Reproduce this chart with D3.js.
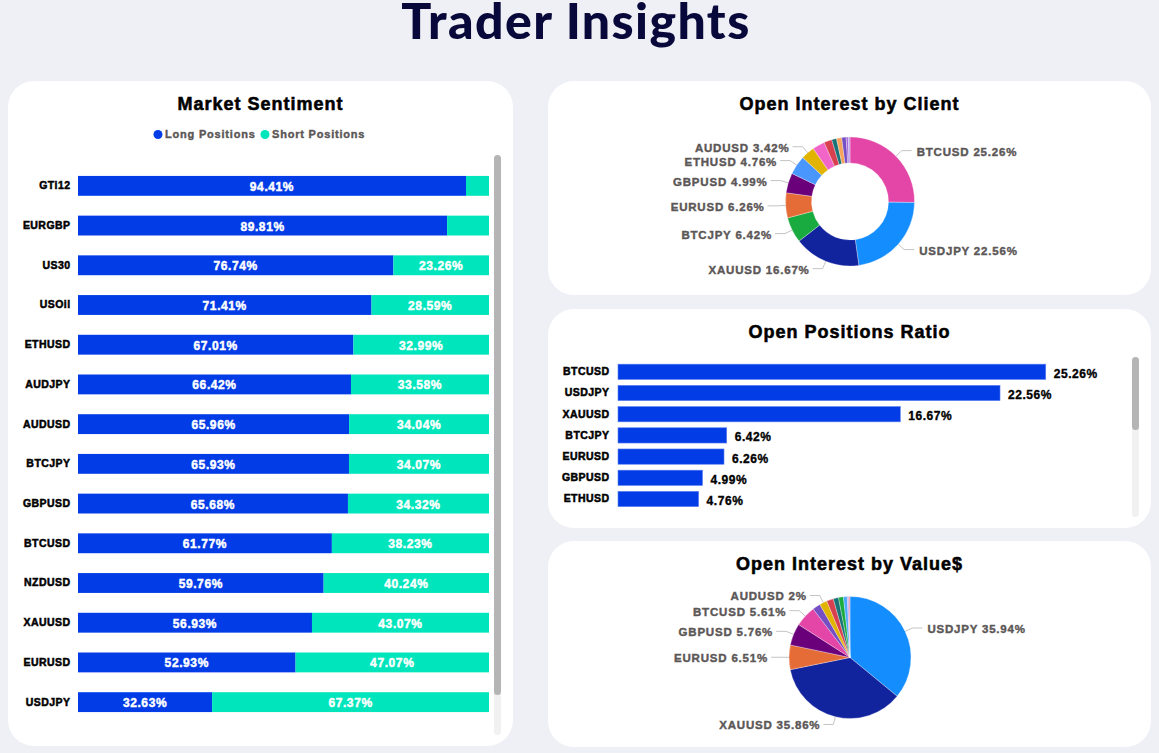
<!DOCTYPE html>
<html>
<head>
<meta charset="utf-8">
<title>Trader Insights</title>
<script src="https://cdn.jsdelivr.net/npm/d3@7"></script>
<style>
  html, body { margin: 0; padding: 0; background: #eff0f5; overflow: hidden; }
  svg { display: block; }
  text { font-family: "Liberation Sans", Arial, sans-serif; font-weight: 700; }
  .title { font-family: Lato, sans-serif; font-weight: 900; font-size: 50px; fill: #08083a; text-anchor: middle; letter-spacing: 1.4px; }
  .card-title { font-size: 18px; fill: #000; text-anchor: middle; letter-spacing: 1px; stroke: #000; stroke-width: .55px; }
  .legend { font-size: 11px; fill: #5c5757; letter-spacing: .8px; stroke: #5c5757; stroke-width: .4px; }
  .axis text { font-size: 10.5px; fill: #000; letter-spacing: .45px; stroke: #000; stroke-width: .5px; }
  .bar-label { font-size: 12px; fill: #fff; text-anchor: middle; letter-spacing: .6px; stroke: #fff; stroke-width: .45px; }
  .value-label { font-size: 12px; fill: #000; letter-spacing: .55px; stroke: #000; stroke-width: .35px; }
  .slice-label { font-size: 11.5px; fill: #5c5757; letter-spacing: .8px; stroke: #5c5757; stroke-width: .4px; }
</style>
</head>
<body>
<svg id="chart" width="1159" height="753"></svg>
<script>
// market sentiment
const sentimentPairs = ["GTi12", "EURGBP", "US30", "USOil", "ETHUSD", "AUDJPY", "AUDUSD", "BTCJPY", "GBPUSD", "BTCUSD", "NZDUSD", "XAUUSD", "EURUSD", "USDJPY"];
const longValues = [94.41, 89.81, 76.74, 71.41, 67.01, 66.42, 65.96, 65.93, 65.68, 61.77, 59.76, 56.93, 52.93, 32.63];
const shortValues = [5.59, 10.19, 23.26, 28.59, 32.99, 33.58, 34.04, 34.07, 34.32, 38.23, 40.24, 43.07, 47.07, 67.37];

// open positions ratio, the visible rows of the list
const ratioPairs = ["BTCUSD", "USDJPY", "XAUUSD", "BTCJPY", "EURUSD", "GBPUSD", "ETHUSD"];
const ratioValues = [25.26, 22.56, 16.67, 6.42, 6.26, 4.99, 4.76];

// open interest by client, only the first 8 slices carry a label
const clientPairs = ["BTCUSD", "USDJPY", "XAUUSD", "BTCJPY", "EURUSD", "GBPUSD", "ETHUSD", "AUDUSD", "US30", "USOil", "GTi12", "AUDJPY", "NZDUSD", "EURGBP", "GBPJPY"];
const clientValues = [25.26, 22.56, 16.67, 6.42, 6.26, 4.99, 4.76, 3.42, 3.1, 2.0, 1.2, 1.3, 1.1, 0.55, 0.41];
const clientLabelled = 8;
const clientColors = ["#e346a6", "#148dff", "#12239e", "#1aab40", "#e66c37", "#6b007b", "#4a96ff", "#e0b400", "#f265c8", "#d9404f", "#197278", "#f7a35c", "#744ec2", "#a66ad8", "#b79be8"];

// open interest by value, labelled slices are listed by name
const valuePairs = ["USDJPY", "XAUUSD", "EURUSD", "GBPUSD", "BTCUSD", "ETHUSD", "AUDUSD", "US30", "USOil", "BTCJPY", "NZDUSD", "GTi12", "EURGBP"];
const valueValues = [35.94, 35.86, 6.51, 5.76, 5.61, 2.1, 2, 1.8, 1.4, 1.3, 1.0, 0.4, 0.32];
const valueLabelled = ["USDJPY", "XAUUSD", "EURUSD", "GBPUSD", "BTCUSD", "AUDUSD"];
const valueColors = ["#148dff", "#12239e", "#e66c37", "#6b007b", "#e346a6", "#744ec2", "#e0b400", "#d9404f", "#197278", "#1aab40", "#4aa8ff", "#b79be8", "#f28ca0"];

const blue = "#023ce6";
const blueEdge = "#5a7ff0";
const teal = "#00e5bb";

const svg = d3.select("#chart");

svg.append("text").attr("class", "title").attr("x", 576).attr("y", 39).text("Trader Insights");

// white rounded cards
const cards = [
  { x: 8, y: 81, w: 505, h: 665, title: "Market Sentiment", ty: 110 },
  { x: 548, y: 81, w: 603, h: 214, title: "Open Interest by Client", ty: 110 },
  { x: 548, y: 309, w: 603, h: 219, title: "Open Positions Ratio", ty: 338 },
  { x: 548, y: 541, w: 603, h: 206, title: "Open Interest by Value$", ty: 570 }
];
cards.forEach(c => {
  svg.append("rect").attr("x", c.x).attr("y", c.y).attr("width", c.w).attr("height", c.h)
    .attr("rx", 26).attr("fill", "#fff");
  svg.append("text").attr("class", "card-title").attr("x", c.x + c.w / 2).attr("y", c.ty).text(c.title);
});

// scrollbars
function scrollbar(x, y, h, thumb) {
  svg.append("rect").attr("x", x).attr("y", y).attr("width", 7).attr("height", h).attr("rx", 3.5).attr("fill", "#f1f1f1");
  svg.append("rect").attr("x", x).attr("y", y).attr("width", 7).attr("height", thumb).attr("rx", 3.5).attr("fill", "#b5b5b5");
}
scrollbar(494, 155, 580, 540);
scrollbar(1132, 357, 160, 73);

// legend
const legend = svg.append("g");
[["Long Positions", blue, 158, 165], ["Short Positions", teal, 265, 272]].forEach(d => {
  legend.append("circle").attr("cx", d[2]).attr("cy", 134.5).attr("r", 4.5).attr("fill", d[1]);
  legend.append("text").attr("class", "legend").attr("x", d[3]).attr("y", 138).text(d[0]);
});

// market sentiment stacked bars
const sx = d3.scaleLinear().domain([0, 100]).range([78, 489]);
const sy = d3.scaleBand().domain(sentimentPairs).range([166, 722]).paddingInner(0.5).paddingOuter(0.25);

svg.append("g").attr("class", "axis").attr("transform", "translate(78,0)")
  .call(d3.axisLeft(sy).tickSize(0).tickPadding(7.5))
  .call(g => g.select(".domain").remove());

const rows = svg.selectAll(".row").data(sentimentPairs).enter().append("g").attr("class", "row");
rows.append("rect")
  .attr("x", sx(0))
  .attr("y", d => sy(d))
  .attr("width", (d, i) => sx(longValues[i]) - sx(0))
  .attr("height", sy.bandwidth())
  .attr("fill", blue);
rows.append("rect")
  .attr("x", (d, i) => sx(longValues[i]))
  .attr("y", d => sy(d))
  .attr("width", (d, i) => sx(100) - sx(longValues[i]))
  .attr("height", sy.bandwidth())
  .attr("fill", teal);
rows.append("text").attr("class", "bar-label")
  .attr("x", (d, i) => sx(longValues[i] / 2))
  .attr("y", d => sy(d) + sy.bandwidth() / 2 + 5)
  .text((d, i) => longValues[i] + "%");
rows.filter((d, i) => shortValues[i] > 15).append("text").attr("class", "bar-label")
  .attr("x", d => { const i = sentimentPairs.indexOf(d); return sx(longValues[i] + shortValues[i] / 2); })
  .attr("y", d => sy(d) + sy.bandwidth() / 2 + 5)
  .text(d => shortValues[sentimentPairs.indexOf(d)] + "%");

// open positions ratio bars
const rx = d3.scaleLinear().domain([0, 30]).range([618, 1126]);
const ry = d3.scaleBand().domain(ratioPairs).range([361.2, 509.6]).paddingInner(0.28).paddingOuter(0.14);

svg.append("g").attr("class", "axis").attr("transform", "translate(618,0)")
  .call(d3.axisLeft(ry).tickSize(0).tickPadding(8.5))
  .call(g => g.select(".domain").remove());

svg.selectAll(".ratio").data(ratioValues).enter().append("rect").attr("class", "ratio")
  .attr("x", rx(0))
  .attr("y", (d, i) => ry(ratioPairs[i]))
  .attr("width", d => rx(d) - rx(0))
  .attr("height", ry.bandwidth())
  .attr("fill", blue)
  .attr("stroke", blueEdge)
  .attr("stroke-width", .6);
svg.selectAll(".ratio-label").data(ratioValues).enter().append("text").attr("class", "value-label")
  .attr("x", d => rx(d) + 8)
  .attr("y", (d, i) => ry(ratioPairs[i]) + ry.bandwidth() / 2 + 6)
  .text(d => d + "%");

// pie and donut with elbow leaders
function drawPie(names, values, colors, isLabelled, cx, cy, inner, outer) {
  const g = svg.append("g").attr("transform", "translate(" + cx + "," + cy + ")");
  const pie = d3.pie().sort(null).value(d => d)(values);
  const arc = d3.arc().innerRadius(inner).outerRadius(outer);
  g.selectAll("path").data(pie).enter().append("path")
    .attr("d", arc)
    .attr("fill", (d, i) => colors[i])
    .attr("stroke", "#fff")
    .attr("stroke-width", .3);

  pie.forEach((d, i) => {
    if (!isLabelled(names[i])) return;
    const mid = (d.startAngle + d.endAngle) / 2;
    const sin = Math.sin(mid), cos = -Math.cos(mid);
    const side = sin >= 0 ? 1 : -1;
    const ex = sin * (outer + 8), ey = cos * (outer + 8);
    g.append("polyline")
      .attr("points", [[sin * outer, cos * outer], [ex, ey], [ex + side * 10, ey]].join(" "))
      .attr("fill", "none")
      .attr("stroke", "#c4c4c4")
      .attr("stroke-width", 1);
    g.append("text").attr("class", "slice-label")
      .attr("x", ex + side * (side > 0 ? 15 : 13))
      .attr("y", ey + 5)
      .attr("text-anchor", side > 0 ? "start" : "end")
      .text(names[i] + " " + values[i] + "%");
  });
}
drawPie(clientPairs, clientValues, clientColors, n => clientPairs.indexOf(n) < clientLabelled, 850, 201.5, 38.5, 64.5);
drawPie(valuePairs, valueValues, valueColors, n => valueLabelled.includes(n), 850, 657.5, 0, 61);
</script>
</body>
</html>
